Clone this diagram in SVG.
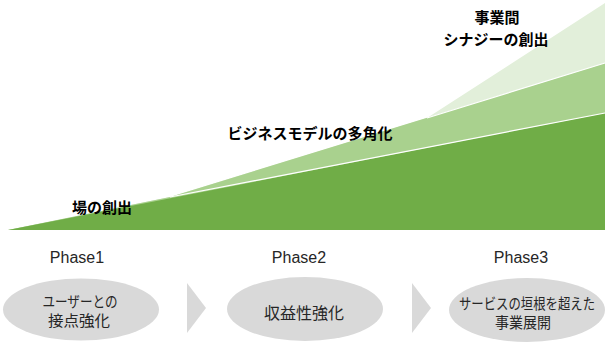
<svg xmlns="http://www.w3.org/2000/svg" width="609" height="355" viewBox="0 0 609 355">
<style>
.lbl{font-family:"Noto Sans CJK JP","Noto Sans",sans-serif;font-weight:bold;font-size:15px;fill:#000;text-anchor:middle}
.ph{font-family:"Liberation Sans","Noto Sans",sans-serif;font-size:16px;fill:#262626;text-anchor:middle}
.et{font-family:"Noto Sans CJK JP","Noto Sans",sans-serif;font-size:16px;fill:#262626;text-anchor:middle}
.et2{font-family:"Noto Sans CJK JP","Noto Sans",sans-serif;font-size:15px;fill:#262626;text-anchor:middle}
.ell{fill:#D9D9D9}
.chev{fill:#D9D9D9}
.edge{fill:none;stroke:#FFFFFF;stroke-width:1.2}
</style>
<rect width="609" height="355" fill="#FFFFFF"/>
<g id="growth-chart">
<polygon points="8,230 170,197 427,118 605,3 605,230" fill="#E2EFDA"/>
<polygon points="8,230 170,197 605,63 605,230" fill="#A9D18E"/>
<polyline class="edge" points="427,118 605,63"/>
<polygon points="8,230 605,113 605,230" fill="#70AD47"/>
<polyline class="edge" points="170,197 605,113"/>
</g>
<g id="label-place">
<text class="lbl" x="102" y="213">場の創出</text>
</g>
<g id="label-diversify">
<text class="lbl" x="310" y="139">ビジネスモデルの多角化</text>
</g>
<g id="label-synergy">
<text class="lbl" x="497" y="23">事業間</text>
<text class="lbl" x="496" y="45">シナジーの創出</text>
</g>
<g id="phase1">
<text class="ph" x="77" y="263">Phase1</text>
<ellipse class="ell" cx="81" cy="309.5" rx="78" ry="31"/>
<text class="et2" x="80" y="307" textLength="75" lengthAdjust="spacingAndGlyphs">ユーザーとの</text>
<text class="et2" x="79" y="326" textLength="62" lengthAdjust="spacingAndGlyphs">接点強化</text>
</g>
<g id="phase2">
<text class="ph" x="299" y="263">Phase2</text>
<ellipse class="ell" cx="305" cy="309" rx="78" ry="32"/>
<text class="et" x="304" y="319">収益性強化</text>
</g>
<g id="phase3">
<text class="ph" x="521" y="263">Phase3</text>
<ellipse class="ell" cx="527" cy="310" rx="78" ry="32"/>
<text class="et2" x="527" y="309" textLength="136" lengthAdjust="spacingAndGlyphs">サービスの垣根を超えた</text>
<text class="et2" x="523" y="328" textLength="56" lengthAdjust="spacingAndGlyphs">事業展開</text>
</g>
<g id="connectors">
<polygon class="chev" points="187,283 206,308 187,333"/>
<polygon class="chev" points="412,283 431,308 412,333"/>
</g>
</svg>
